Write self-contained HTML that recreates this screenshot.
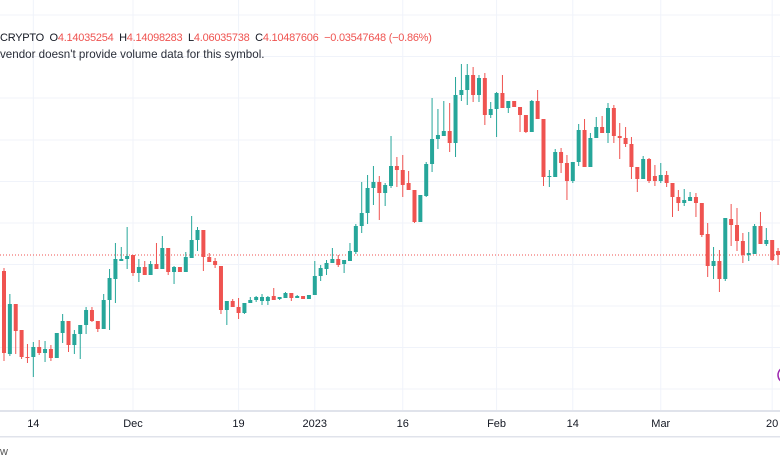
<!DOCTYPE html>
<html><head><meta charset="utf-8">
<style>
html,body{margin:0;padding:0;background:#fff;width:780px;height:470px;overflow:hidden;font-family:"Liberation Sans",sans-serif;}
#chart{position:absolute;left:0;top:0;}
.hdr{position:absolute;left:0;font-size:11px;color:#131722;white-space:pre;}
.red{color:#ef5350;}
</style></head>
<body>
<svg id="chart" width="780" height="470"></svg>
<div class="hdr" style="top:32px;letter-spacing:-0.25px">CRYPTO  O<span class="red">4.14035254</span>  H<span class="red">4.14098283</span>  L<span class="red">4.06035738</span>  C<span class="red">4.10487606</span>  <span class="red">−0.03547648 (−0.86%)</span></div>
<div class="hdr" style="top:48px;color:#2a2e39;font-size:11.6px">vendor doesn't provide volume data for this symbol.</div>
<div class="hdr" style="top:446px;color:#555">w</div>
<script>
const opens=[3.94,3.11,3.61,3.35,3.08,3.08,3.18,3.12,3.16,3.07,3.32,3.44,3.20,3.31,3.40,3.55,3.44,3.36,3.65,3.86,4.04,4.06,4.10,3.92,3.98,3.90,4.01,3.96,4.17,3.93,3.98,3.93,4.07,4.25,4.35,4.08,4.04,3.99,3.55,3.64,3.58,3.52,3.62,3.65,3.64,3.64,3.69,3.66,3.67,3.72,3.67,3.69,3.66,3.70,3.89,3.96,4.02,4.06,4.01,4.04,4.13,4.39,4.52,4.77,4.83,4.72,4.79,4.99,4.95,4.82,4.75,4.43,4.69,5.01,5.26,5.29,5.34,5.22,5.70,5.75,5.90,5.70,5.87,5.50,5.56,5.72,5.57,5.64,5.58,5.50,5.33,5.64,5.46,4.88,4.88,5.13,5.02,4.84,5.03,5.35,4.98,5.27,5.38,5.32,5.57,5.29,5.27,5.21,4.98,4.86,5.06,4.89,4.84,4.90,4.82,4.68,4.62,4.64,4.68,4.62,4.31,3.99,4.04,3.86,4.46,4.40,4.24,4.10,4.11,4.39,4.21,4.25,4.14];
const highs=[3.97,3.71,3.61,3.35,3.21,3.23,3.25,3.24,3.20,3.32,3.51,3.44,3.35,3.40,3.58,3.58,3.44,3.71,3.96,4.22,4.18,4.38,4.10,4.06,4.04,4.04,4.22,4.29,4.17,3.99,3.98,4.13,4.49,4.38,4.35,4.12,4.07,3.99,3.64,3.66,3.67,3.62,3.68,3.69,3.71,3.69,3.77,3.68,3.73,3.72,3.70,3.69,3.70,4.04,4.00,4.05,4.17,4.10,4.05,4.22,4.41,4.83,4.90,4.99,4.89,4.82,5.29,5.08,5.10,4.94,4.75,4.70,5.03,5.67,5.56,5.64,5.62,5.88,6.01,6.01,5.98,5.90,5.92,5.63,5.73,5.90,5.64,5.64,5.58,5.50,5.65,5.75,5.46,4.95,5.16,5.17,5.10,5.03,5.41,5.46,5.32,5.48,5.49,5.62,5.60,5.42,5.38,5.28,4.98,5.09,5.07,5.00,5.02,4.94,4.82,4.75,4.76,4.73,4.72,4.62,4.42,4.18,4.15,4.47,4.61,4.57,4.32,4.33,4.41,4.53,4.37,4.25,4.17];
const lows=[3.04,3.09,3.11,3.06,3.02,2.88,3.10,3.03,3.04,3.07,3.22,3.13,3.11,3.06,3.31,3.43,3.33,3.36,3.35,3.62,4.04,3.96,3.89,3.83,3.90,3.90,3.96,3.96,3.90,3.81,3.93,3.93,4.07,4.14,3.94,4.03,3.97,3.51,3.40,3.58,3.46,3.51,3.62,3.63,3.60,3.60,3.65,3.65,3.67,3.64,3.67,3.66,3.66,3.70,3.84,3.90,4.02,3.98,3.92,4.04,4.11,4.32,4.41,4.60,4.45,4.59,4.77,4.78,4.68,4.75,4.42,4.43,4.68,4.93,5.16,5.29,5.13,5.08,5.64,5.60,5.63,5.63,5.40,5.47,5.28,5.57,5.52,5.58,5.33,5.32,5.33,5.46,4.79,4.78,4.88,4.92,4.65,4.82,4.99,4.98,4.98,5.27,5.32,5.22,5.22,5.06,5.18,4.86,4.73,4.86,4.82,4.79,4.82,4.78,4.48,4.54,4.59,4.64,4.48,4.28,3.88,3.86,3.73,3.84,4.19,4.14,4.02,4.04,4.11,4.21,4.19,4.04,4.00];
const closes=[3.12,3.61,3.34,3.08,3.07,3.18,3.12,3.16,3.07,3.32,3.44,3.20,3.31,3.40,3.55,3.44,3.36,3.65,3.87,4.06,4.06,4.09,3.92,3.98,3.90,4.01,3.96,4.17,3.93,3.98,3.93,4.08,4.25,4.35,4.08,4.03,4.00,3.55,3.64,3.58,3.52,3.62,3.65,3.68,3.68,3.68,3.65,3.68,3.72,3.67,3.69,3.66,3.70,3.89,3.97,4.02,4.06,4.00,4.05,4.14,4.39,4.52,4.77,4.83,4.72,4.80,4.99,4.95,4.80,4.75,4.43,4.70,5.01,5.26,5.30,5.34,5.22,5.70,5.75,5.90,5.70,5.87,5.50,5.56,5.72,5.57,5.64,5.58,5.50,5.33,5.64,5.46,4.88,4.89,5.13,5.02,4.84,5.03,5.35,4.98,5.27,5.38,5.32,5.57,5.29,5.27,5.21,4.98,4.86,5.06,4.84,4.84,4.90,4.82,4.68,4.62,4.65,4.68,4.62,4.30,3.99,4.04,3.86,4.47,4.40,4.24,4.10,4.12,4.39,4.21,4.25,4.05,4.10];
const tickLabels=["14","Dec","19","2023","16","Feb","14","Mar","20"];
const tickIndex=[5,22,40,53,68,84,97,112,131];
const lastPrice=4.10;

const NS="http://www.w3.org/2000/svg";
const svg=document.getElementById('chart');
const X0=4, STEP=5.864;
function xs(i){return X0+i*STEP;}
function ys(p){return 665-p*100;}
function mk(tag,attrs){const e=document.createElementNS(NS,tag);for(const k in attrs)e.setAttribute(k,attrs[k]);svg.appendChild(e);return e;}

[15,56.5,98,140,181.5,223,264.5,306,347.5,389].forEach(y=>{
  const l=mk('line',{x1:0,x2:780,y1:y,y2:y,stroke:'#f0f3fa','stroke-width':1});
  
  
});
tickIndex.forEach((ti,k)=>{
  const x=xs(ti);
  const l=mk('line',{x1:x,x2:x,y1:0,y2:410,stroke:'#f0f3fa','stroke-width':1});
  
  
  const t=mk('text',{x:x,y:427,'text-anchor':'middle','font-size':'11','fill':'#131722','font-family':'Liberation Sans, sans-serif'});
  t.textContent=tickLabels[k];
  
  
});
const s1=mk('rect',{x:0,y:410,width:780,height:2,fill:'#e0e3eb'});


const s2=mk('rect',{x:0,y:436,width:780,height:1.5,fill:'#e0e3eb'});



const lp=mk('line',{x1:0,x2:780,y1:ys(lastPrice),y2:ys(lastPrice),stroke:'#ef5350','stroke-width':1,'stroke-dasharray':'1 2'});



for(let i=0;i<opens.length;i++){
  const up=closes[i]>=opens[i];
  const col=up?'#26a69a':'#ef5350';
  const x=xs(i);
  const w=mk('line',{x1:x,x2:x,y1:ys(highs[i]),y2:ys(lows[i]),stroke:col,'stroke-width':1});
  
  
  const top=ys(Math.max(opens[i],closes[i])), bot=ys(Math.min(opens[i],closes[i]));
  const b=mk('rect',{x:x-2,y:top,width:4,height:Math.max(1,bot-top),fill:col});
  
  
}
const c=mk('circle',{cx:786,cy:375,r:8,fill:'none',stroke:'#9c27b0','stroke-width':1.5});


</script>
</body></html>
